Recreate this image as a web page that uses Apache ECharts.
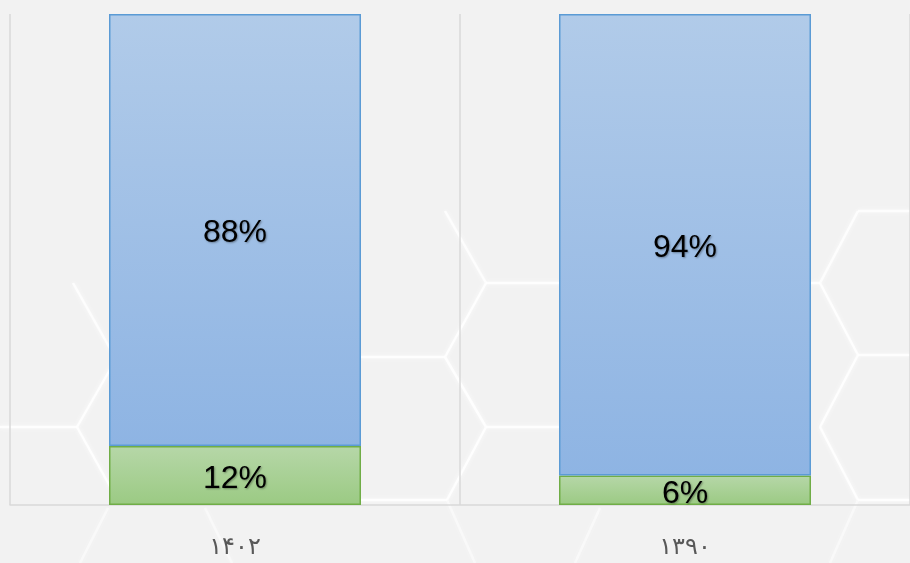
<!DOCTYPE html>
<html>
<head>
<meta charset="utf-8">
<script src="https://cdn.jsdelivr.net/npm/echarts@6/dist/echarts.min.js"></script>
<style>
  html, body { margin: 0; padding: 0; background: #f2f2f2; }
  #chart { width: 910px; height: 563px; }
</style>
</head>
<body>
<div id="chart"></div>
<script>
// data
const years = ['۱۴۰۲', '۱۳۹۰'];
const shareTop = [88, 94];    // blue part
const shareBottom = [12, 6];  // green part

// faint hexagon pattern in the background (decoration only), [from, to, opacity]
const hexLines = [
  [[73, 283], [112, 352], 0.8],
  [[0, 427], [77, 427], 0.85],
  [[77, 427], [112, 366], 0.85],
  [[77, 427], [112, 490], 0.85],
  [[445, 211], [486, 283], 0.8],
  [[486, 283], [560, 283], 0.85],
  [[486, 283], [445, 357], 0.85],
  [[361, 357], [445, 357], 0.85],
  [[445, 357], [486, 427], 0.85],
  [[486, 427], [560, 427], 0.85],
  [[486, 427], [447, 500], 0.85],
  [[361, 500], [447, 500], 0.85],
  [[858, 211], [910, 211], 0.8],
  [[858, 211], [820, 283], 0.8],
  [[811, 283], [820, 283], 0.85],
  [[820, 283], [858, 355], 0.85],
  [[858, 355], [910, 355], 0.85],
  [[858, 355], [820, 427], 0.85],
  [[820, 427], [858, 500], 0.85],
  [[858, 500], [910, 500], 0.85],
  [[108, 508], [80, 563], 0.45],
  [[205, 508], [232, 563], 0.45],
  [[447, 500], [475, 563], 0.45],
  [[600, 508], [575, 563], 0.45],
  [[858, 500], [830, 563], 0.45]
];

const chart = echarts.init(document.getElementById('chart'), null, { renderer: 'canvas' });

const labelStyle = {
  show: true,
  position: 'inside',
  formatter: p => p.value + '%',
  color: '#000',
  fontFamily: 'Liberation Sans',
  fontSize: 32,
  textShadowColor: 'rgba(0,0,0,0.35)',
  textShadowBlur: 2,
  textShadowOffsetX: 1,
  textShadowOffsetY: 1
};

chart.setOption({
  backgroundColor: '#f2f2f2',
  animation: false,
  graphic: hexLines.map(l => ({
    type: 'line',
    z: -10,
    silent: true,
    shape: { x1: l[0][0], y1: l[0][1], x2: l[1][0], y2: l[1][1] },
    style: { stroke: '#ffffff', opacity: l[2], lineWidth: 2.5, shadowColor: '#ffffff', shadowBlur: 5 }
  })),
  grid: { left: 10, right: 0, top: 14, bottom: 58 },
  xAxis: {
    type: 'category',
    data: years,
    axisLine: { lineStyle: { color: '#d9d9d9', width: 1.5 } },
    axisTick: { show: false },
    axisLabel: { color: '#595959', fontFamily: 'DejaVu Sans', fontSize: 24, margin: 31 },
    splitLine: { show: true, lineStyle: { color: '#d9d9d9', width: 1.5 } }
  },
  yAxis: {
    type: 'value',
    min: 0,
    max: 100,
    show: false
  },
  series: [
    {
      name: 'bottom',
      type: 'bar',
      stack: 'total',
      barWidth: '56%',
      data: shareBottom,
      itemStyle: {
        color: new echarts.graphic.LinearGradient(0, 0, 0, 1, [
          { offset: 0, color: '#b6d7a8' },
          { offset: 1, color: '#9bca83' }
        ]),
        borderColor: '#70ad47',
        borderWidth: 1.5
      },
      label: Object.assign({}, labelStyle, { offset: [0, 4] })
    },
    {
      name: 'top',
      type: 'bar',
      stack: 'total',
      barWidth: '56%',
      data: shareTop,
      itemStyle: {
        color: new echarts.graphic.LinearGradient(0, 0, 0, 1, [
          { offset: 0, color: '#b1cbe9' },
          { offset: 1, color: '#8eb4e3' }
        ]),
        borderColor: '#5b9bd5',
        borderWidth: 1.5
      },
      label: Object.assign({}, labelStyle, { offset: [0, 3] })
    }
  ]
});
</script>
</body>
</html>
